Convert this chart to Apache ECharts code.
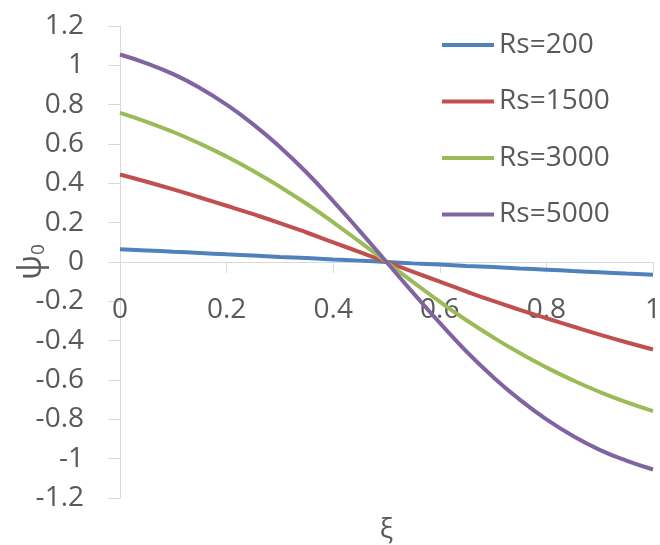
<!DOCTYPE html>
<html>
<head>
<meta charset="utf-8">
<script src="https://cdn.jsdelivr.net/npm/echarts@6/dist/echarts.min.js"></script>
<style>
  html, body { margin: 0; padding: 0; background: #ffffff; }
  #chart { width: 660px; height: 545px; }
</style>
</head>
<body>
<div id="chart"></div>
<script>
// Dimensionless position across the layer
const xi = [0, 0.05, 0.1, 0.15, 0.2, 0.25, 0.3, 0.35, 0.4, 0.45, 0.5,
            0.55, 0.6, 0.65, 0.7, 0.75, 0.8, 0.85, 0.9, 0.95, 1];

// Psi_0 profiles for each Rs
const rs200  = [0.065, 0.059, 0.052, 0.046, 0.039, 0.033, 0.026, 0.020, 0.013, 0.007, 0,
                -0.007, -0.013, -0.020, -0.026, -0.033, -0.039, -0.046, -0.052, -0.059, -0.065];
const rs1500 = [0.445, 0.408, 0.369, 0.328, 0.286, 0.243, 0.198, 0.150, 0.100, 0.050, 0,
                -0.050, -0.100, -0.150, -0.198, -0.243, -0.286, -0.328, -0.369, -0.408, -0.445];
const rs3000 = [0.758, 0.713, 0.661, 0.602, 0.536, 0.463, 0.383, 0.296, 0.202, 0.102, 0,
                -0.102, -0.202, -0.296, -0.383, -0.463, -0.536, -0.602, -0.661, -0.713, -0.758];
const rs5000 = [1.055, 1.010, 0.955, 0.885, 0.800, 0.700, 0.585, 0.455, 0.310, 0.157, 0,
                -0.157, -0.310, -0.455, -0.585, -0.700, -0.800, -0.885, -0.955, -1.010, -1.055];

const seriesNames = ['Rs=200', 'Rs=1500', 'Rs=3000', 'Rs=5000'];
const seriesValues = [rs200, rs1500, rs3000, rs5000];
const seriesColors = ['#4F81BD', '#C0504D', '#9BBB59', '#8064A2'];

const fontFamily = '"Open Sans", "Liberation Sans", sans-serif';
const textColor = '#595959';
const axisColor = '#d9d9d9';

const gridTop = 26;
const gridBottom = 47;
const chartHeight = 545;
// Horizontal axis sits on the zero line, midway between the y limits
const zeroOffset = -(chartHeight - gridTop - gridBottom) / 2;

const chart = echarts.init(document.getElementById('chart'), null, { renderer: 'canvas' });

chart.setOption({
  animation: false,
  backgroundColor: '#ffffff',
  textStyle: { fontFamily: fontFamily },
  grid: { left: 120, right: 7, top: gridTop, bottom: gridBottom, containLabel: false, outerBoundsMode: 'none' },
  legend: {
    orient: 'vertical',
    left: 442,
    top: 30,
    padding: 0,
    itemWidth: 52,
    itemHeight: 4,
    itemGap: 26.5,
    icon: 'path://M0,0 L52,0 L52,4 L0,4 Z',
    textStyle: { fontFamily: fontFamily, fontSize: 28, color: textColor, lineHeight: 30 },
    data: seriesNames
  },
  xAxis: {
    type: 'value',
    min: 0,
    max: 1,
    interval: 0.2,
    position: 'bottom',
    offset: zeroOffset,
    name: 'ξ',
    nameLocation: 'middle',
    nameGap: 254,
    nameMoveOverlap: false,
    nameTextStyle: { fontFamily: fontFamily, fontSize: 28, color: textColor },
    axisLine: { show: true, onZero: false, lineStyle: { color: axisColor, width: 1 } },
    axisTick: { show: true, inside: false, length: 11, lineStyle: { color: axisColor, width: 1 } },
    axisLabel: { show: true, margin: 34, fontFamily: fontFamily, fontSize: 28, color: textColor },
    splitLine: { show: false }
  },
  yAxis: {
    type: 'value',
    min: -1.2,
    max: 1.2,
    interval: 0.2,
    name: '{a|ψ}{b|0}',
    nameLocation: 'middle',
    nameRotate: 90,
    nameGap: 72,
    nameMoveOverlap: false,
    nameTextStyle: {
      color: textColor,
      rich: {
        a: { fontFamily: fontFamily, fontSize: 33, color: textColor },
        b: { fontFamily: fontFamily, fontSize: 19, color: textColor, padding: [14, 0, 0, 0] }
      }
    },
    axisLine: { show: true, onZero: false, lineStyle: { color: axisColor, width: 1 } },
    axisTick: { show: true, inside: false, length: 12, lineStyle: { color: axisColor, width: 1 } },
    axisLabel: { show: true, margin: 36, fontFamily: fontFamily, fontSize: 28, color: textColor },
    splitLine: { show: false }
  },
  series: seriesNames.map((name, i) => ({
    name: name,
    type: 'line',
    smooth: true,
    symbol: 'none',
    data: xi.map((x, j) => [x, seriesValues[i][j]]),
    lineStyle: { color: seriesColors[i], width: 4 },
    itemStyle: { color: seriesColors[i] },
    z: 2 + i
  }))
});
</script>
</body>
</html>
